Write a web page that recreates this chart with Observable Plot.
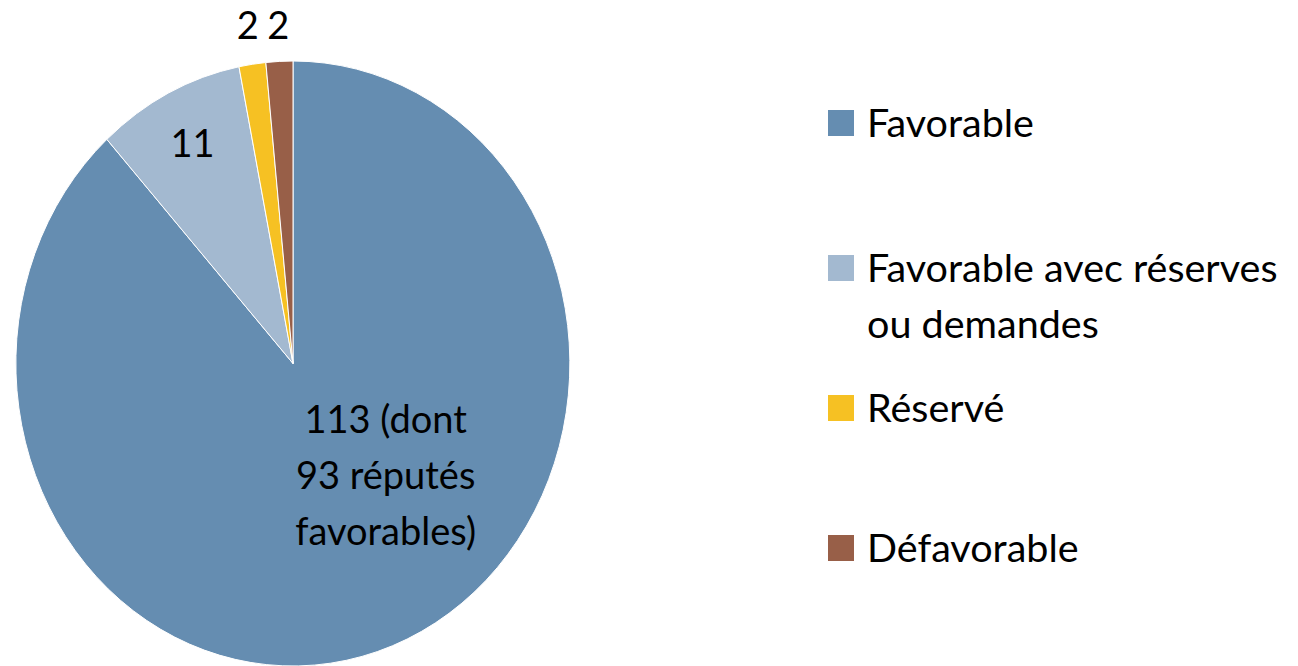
<!DOCTYPE html>
<html>
<head>
<meta charset="utf-8">
<script src="https://cdn.jsdelivr.net/npm/d3@7"></script>
<script src="https://cdn.jsdelivr.net/npm/@observablehq/plot@0.6"></script>
<style>
  html, body { margin: 0; padding: 0; background: #fff; }
  #wrap { position: relative; width: 1298px; height: 666px; overflow: hidden; font-family: Lato, "Open Sans", sans-serif; }
  #chart { position: absolute; left: 0; top: 0; }
  .item { position: absolute; left: 828px; }
  .sw { position: absolute; left: 0; width: 26px; height: 26px; }
  .lab { position: absolute; left: 39px; font-size: 39.5px; line-height: 56px; white-space: pre; color: #000; }
</style>
</head>
<body>
<div id="wrap">
  <div id="chart"></div>
  <div id="legend"></div>
</div>
<script>
const categories = ["Favorable", "Favorable avec réserves ou demandes", "Réservé", "Défavorable"];
const legendLabels = ["Favorable", "Favorable avec réserves\nou demandes", "Réservé", "Défavorable"];
const values = [113, 11, 2, 2];
const labelTexts = ["113 (dont\n93 réputés\nfavorables)", "11", "2", "2"];
const colors = ["#658db1", "#a3b9d0", "#f6c123", "#985f48"];
const labelRadius = [0.5, 0.81, 1.125, 1.115];
const labelAngleDeg = [138.3, null, null, null];

const color = d3.scaleOrdinal(categories, colors);
const arcs = d3.pie().sort(null).value(d => d)(values);

const labels = arcs.map((a, i) => {
  const ang = labelAngleDeg[i] != null ? labelAngleDeg[i] * Math.PI / 180 : (a.startAngle + a.endAngle) / 2;
  return {
    x: labelRadius[i] * Math.sin(ang),
    y: labelRadius[i] * Math.cos(ang),
    text: labelTexts[i]
  };
});

function pieMark(index, scales) {
  const cx = scales.x(0), cy = scales.y(0);
  const sx = scales.x(1) - cx, sy = scales.y(-1) - cy;
  const arc = d3.arc().innerRadius(0).outerRadius(1);
  const g = d3.create("svg:g");
  g.selectAll("path")
    .data(arcs)
    .join("path")
    .attr("d", arc)
    .attr("fill", (d, i) => color(categories[i]))
    .attr("stroke", "#fff")
    .attr("stroke-width", 1)
    .attr("vector-effect", "non-scaling-stroke")
    .attr("transform", `translate(${cx},${cy}) scale(${sx},${sy})`);
  return g.node();
}

const plot = Plot.plot({
  width: 1298,
  height: 666,
  margin: 0,
  style: { fontFamily: "Lato, 'Open Sans', sans-serif", background: "transparent" },
  x: { domain: [-1, 1], range: [16, 570], axis: null },
  y: { domain: [-1, 1], range: [666, 61], axis: null },
  marks: [
    pieMark,
    Plot.text(labels, { x: "x", y: "y", text: "text", fontSize: 38, lineHeight: 1.47, dy: -6, fill: "#000" })
  ]
});
document.getElementById("chart").appendChild(plot);

// legend
const tops = [94, 239, 379, 519];
const legend = document.getElementById("legend");
categories.forEach((c, i) => {
  const item = document.createElement("div");
  item.className = "item";
  item.style.top = tops[i] + "px";
  const sw = document.createElement("div");
  sw.className = "sw";
  sw.style.background = color(c);
  sw.style.top = "16px";
  const lab = document.createElement("div");
  lab.className = "lab";
  lab.textContent = legendLabels[i];
  item.appendChild(sw);
  item.appendChild(lab);
  legend.appendChild(item);
});
</script>
</body>
</html>
